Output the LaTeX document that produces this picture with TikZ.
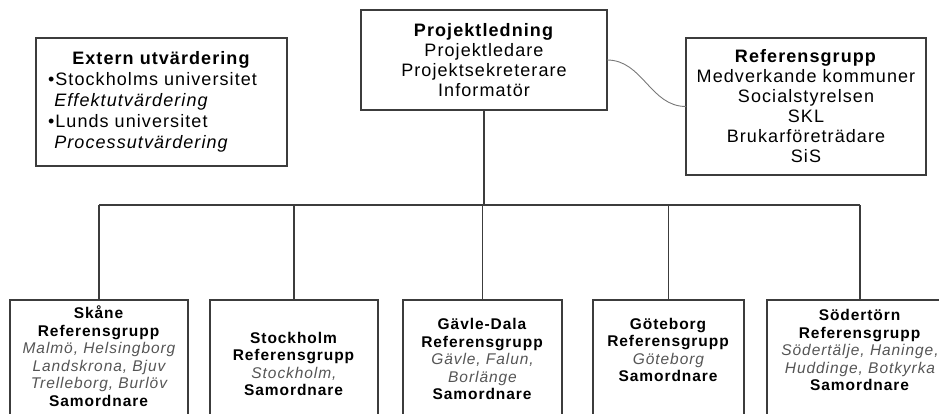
\documentclass[tikz,border=0pt]{standalone}
\usepackage{fontspec}
\setmainfont[LetterSpace=6]{Liberation Sans}
\definecolor{boxline}{RGB}{60,60,60}
\definecolor{citygray}{RGB}{85,85,85}
\definecolor{curvegray}{RGB}{120,120,120}

\begin{document}
\begin{tikzpicture}[x=1pt,y=-1pt,every node/.style={inner sep=0pt, outer sep=0pt},
  box/.style={draw=boxline, line width=1.3pt, align=center, font=\fontsize{18}{20}\selectfont},
  unit/.style={draw=boxline, line width=1.3pt, anchor=north, minimum height=150},
  unittext/.style={align=center, font=\fontsize{15.5}{17.5}\selectfont},
  link/.style={draw=boxline, line width=1.3pt},
  city/.style={color=citygray}]

\clip (0,0) rectangle (939,414);

\node[box, minimum width=251, minimum height=128, text width=227, align=left, font=\fontsize{18}{21}\selectfont] (extern) at (161.5,102)
  {\makebox[\linewidth]{\textbf{Extern utvärdering}}\\
   •Stockholms universitet\\
   \phantom{•}\textit{Effektutvärdering}\\
   •Lunds universitet\\
   \phantom{•}\textit{Processutvärdering}};
\node[box, minimum width=246, minimum height=100] (proj) at (484,60)
  {\textbf{Projektledning}\\Projektledare\\Projektsekreterare\\Informatör};
\node[box, minimum width=240, minimum height=137] (ref) at (806,106.5)
  {\textbf{Referensgrupp}\\Medverkande kommuner\\Socialstyrelsen\\SKL\\Brukarföreträdare\\SiS};

\node[unit, minimum width=178] (skane) at (99,300) {};
\node[unit, minimum width=168] (sthlm) at (294,300) {};
\node[unit, minimum width=159] (gavle) at (482.5,300) {};
\node[unit, minimum width=151] (gbg) at (668.5,300) {};
\node[unit, minimum width=186] (sodt) at (860,300) {};

\node[unittext] (skanetxt) at ([yshift=-56]skane.north)
  {\textbf{Skåne}\\\textbf{Referensgrupp}\\{\color{citygray}\itshape Malmö, Helsingborg}\\{\color{citygray}\itshape Landskrona, Bjuv}\\{\color{citygray}\itshape Trelleborg, Burlöv}\\\textbf{Samordnare}};
\node[unittext] (sthlmtxt) at ([yshift=-64]sthlm.north)
  {\textbf{Stockholm}\\\textbf{Referensgrupp}\\{\color{citygray}\itshape Stockholm,}\\\textbf{Samordnare}};
\node[unittext] (gavletxt) at ([yshift=-59]gavle.north)
  {\textbf{Gävle-Dala}\\\textbf{Referensgrupp}\\{\color{citygray}\itshape Gävle, Falun,}\\{\color{citygray}\itshape Borlänge}\\\textbf{Samordnare}};
\node[unittext] (gbgtxt) at ([yshift=-50]gbg.north)
  {\textbf{Göteborg}\\\textbf{Referensgrupp}\\{\color{citygray}\itshape Göteborg}\\\textbf{Samordnare}};
\node[unittext] (sodttxt) at ([yshift=-50]sodt.north)
  {\textbf{Södertörn}\\\textbf{Referensgrupp}\\{\color{citygray}\itshape Södertälje, Haninge,}\\{\color{citygray}\itshape Huddinge, Botkyrka}\\\textbf{Samordnare}};

\coordinate (bus) at (484,205);
\draw[link] (proj.south) -- (bus);
\draw[link] (skane.north |- bus) -- (sodt.north |- bus);
\foreach \b in {skane,sthlm,gavle,gbg,sodt}
  \draw[link] (\b.north |- bus) -- (\b.north);
\draw[draw=curvegray, line width=0.9pt] (proj.east) to[out=0,in=180] (ref.west);
\end{tikzpicture}
\end{document}
